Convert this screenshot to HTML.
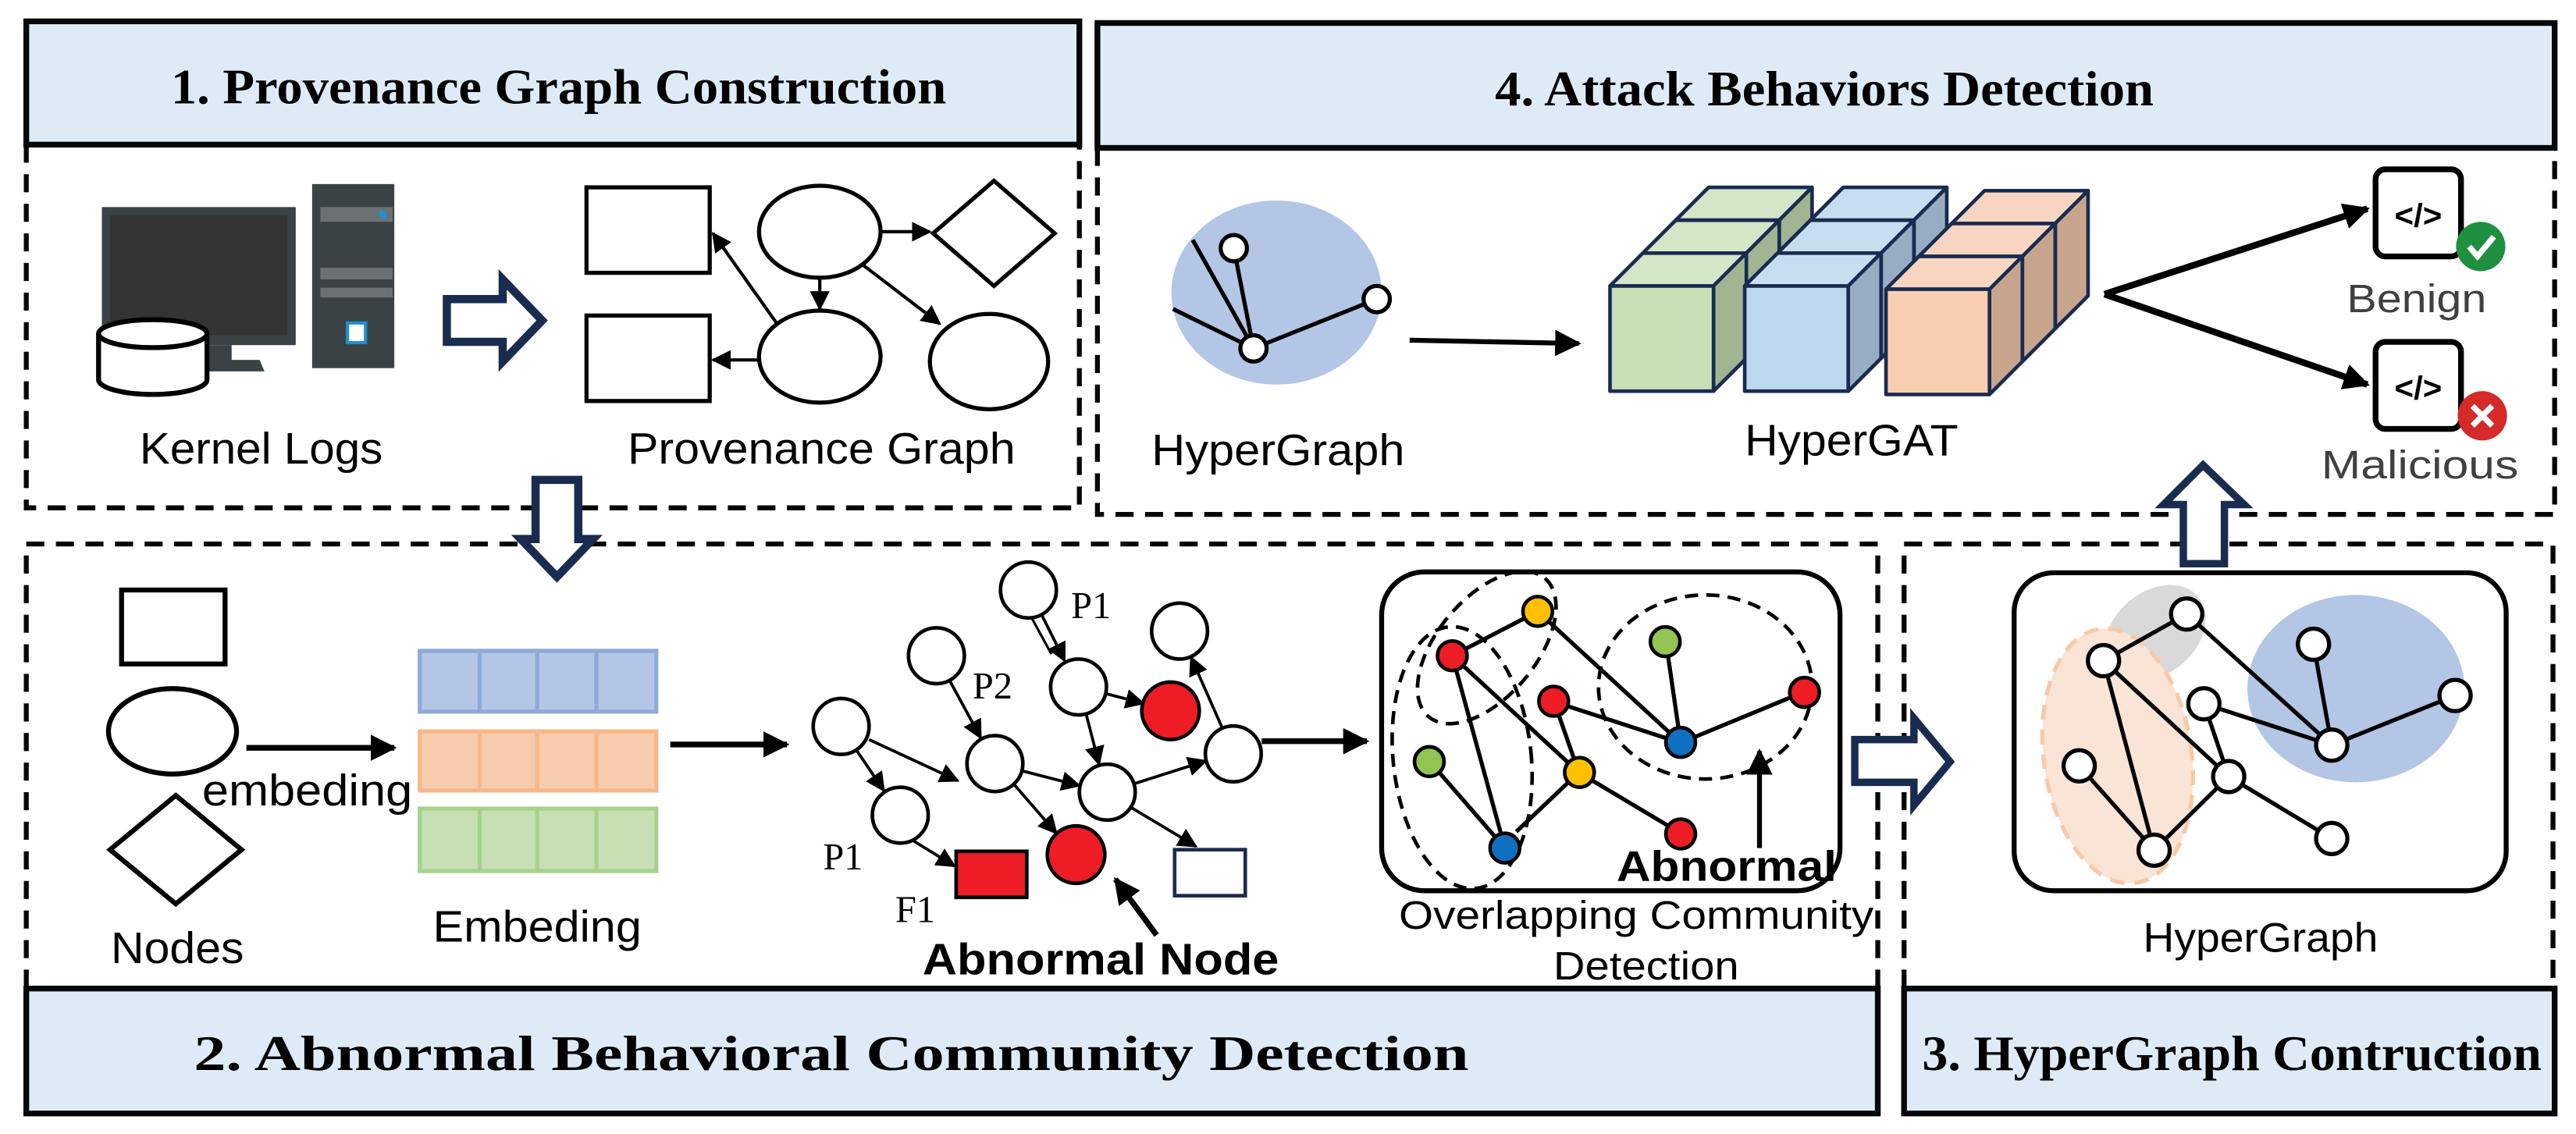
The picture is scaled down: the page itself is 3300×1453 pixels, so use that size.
<!DOCTYPE html>
<html><head><meta charset="utf-8"><style>
html,body{margin:0;padding:0;background:#fff;}
svg{display:block;}
.s{font-family:"Liberation Sans",sans-serif;}
.h{font-family:"Liberation Serif",serif;font-weight:bold;}
</style></head><body>
<svg width="3300" height="1453" viewBox="0 0 1568 690" preserveAspectRatio="none" xmlns="http://www.w3.org/2000/svg">
<defs>
<marker id="a" viewBox="0 0 10 10" refX="9" refY="5" markerWidth="12" markerHeight="12" markerUnits="userSpaceOnUse" orient="auto"><path d="M0,0 L10,5 L0,10 z" fill="#000"/></marker>
<marker id="b" viewBox="0 0 10 10" refX="9" refY="5" markerWidth="16" markerHeight="16" markerUnits="userSpaceOnUse" orient="auto"><path d="M0,0 L10,5 L0,10 z" fill="#000"/></marker>
</defs>

<g stroke="#050708" stroke-width="3.5" fill="#deebf7">
<rect x="16" y="13" width="641" height="75"/>
<rect x="668" y="14" width="887" height="76"/>
<rect x="16" y="601.5" width="1127" height="76"/>
<rect x="1159" y="601.5" width="396" height="76"/>
</g>
<g class="h" font-size="30" fill="#000">
<text x="104" y="63" textLength="472" lengthAdjust="spacingAndGlyphs">1. Provenance Graph Construction</text>
<text x="910" y="64" textLength="401" lengthAdjust="spacingAndGlyphs">4. Attack Behaviors Detection</text>
<text x="118" y="651" textLength="776" lengthAdjust="spacingAndGlyphs">2. Abnormal Behavioral Community Detection</text>
<text x="1170" y="651" textLength="377" lengthAdjust="spacingAndGlyphs">3. HyperGraph Contruction</text>
</g>

<g stroke="#050708" stroke-width="3" stroke-dasharray="11 7" fill="none">
<path d="M16,88 V309 H657 V88"/>
<path d="M668,90 V313 H1555 V90"/>
<path d="M16,601 V331 H1143 V601"/>
<path d="M1159,601 V331 H1554 V601"/>
</g>

<!-- Section 1 -->
<rect x="62" y="126" width="118" height="84" fill="#3b4245"/>
<rect x="67" y="131" width="108" height="73" fill="#333"/>
<rect x="127" y="210" width="14" height="10" fill="#3b4245"/>
<path d="M122,219 H158 L161,226 H122 z" fill="#3b4245"/>
<rect x="190" y="112" width="50" height="112" fill="#3a4244"/>
<rect x="195" y="126" width="44" height="9" fill="#6b7072"/>
<rect x="231" y="128" width="4" height="5" fill="#1e90d0"/>
<rect x="195" y="163" width="44" height="7" fill="#6b7072"/>
<rect x="195" y="175" width="44" height="6" fill="#6b7072"/>
<rect x="211.5" y="196.5" width="11" height="12" fill="#fff" stroke="#1e90d0" stroke-width="2"/>
<path d="M60,203 V231 A33,9 0 0 0 126,231 V203" fill="#fff" stroke="#000" stroke-width="3"/>
<ellipse cx="93" cy="203" rx="33" ry="8.5" fill="#fff" stroke="#000" stroke-width="3"/>
<text class="s" x="159" y="282" font-size="27" text-anchor="middle" textLength="148" lengthAdjust="spacingAndGlyphs">Kernel Logs</text>

<polygon points="272,182 306,182 306,170 330,195 306,220 306,208 272,208" fill="#fff" stroke="#1a2b50" stroke-width="5"/>

<g stroke="#000" stroke-width="2.5" fill="#fff">
<rect x="357" y="114" width="75" height="52"/>
<rect x="357" y="192" width="75" height="52"/>
<ellipse cx="499" cy="141" rx="37" ry="28"/>
<ellipse cx="499" cy="217" rx="37" ry="28"/>
<ellipse cx="602" cy="220" rx="36" ry="29"/>
<polygon points="605,110 642,142 605,174 568,142"/>
</g>
<g stroke="#000" stroke-width="2" marker-end="url(#a)">
<line x1="536" y1="141" x2="566" y2="141"/>
<line x1="499" y1="169" x2="499" y2="188"/>
<line x1="525" y1="161" x2="572" y2="197"/>
<line x1="473" y1="197" x2="434" y2="142"/>
<line x1="462" y1="219" x2="434" y2="219"/>
</g>
<text class="s" x="500" y="282" font-size="27" text-anchor="middle" textLength="236" lengthAdjust="spacingAndGlyphs">Provenance Graph</text>

<polygon points="326,292 352,292 352,328 361,328 339,351 317,328 326,328" fill="#fff" stroke="#1a2b50" stroke-width="5"/>

<!-- Section 4 -->
<ellipse cx="777" cy="178" rx="64" ry="56" fill="#b4c6e6"/>
<g stroke="#000" stroke-width="2.5">
<line x1="726" y1="146" x2="763" y2="212"/>
<line x1="714" y1="188" x2="763" y2="212"/>
<line x1="751" y1="151" x2="763" y2="212"/>
<line x1="838" y1="182" x2="763" y2="212"/>
</g>
<g fill="#fff" stroke="#000" stroke-width="2.5">
<circle cx="751" cy="151" r="8"/><circle cx="838" cy="182" r="8"/><circle cx="763" cy="212" r="8"/>
</g>
<text class="s" x="778" y="283" font-size="27" text-anchor="middle" textLength="154" lengthAdjust="spacingAndGlyphs">HyperGraph</text>
<line x1="858" y1="207" x2="961" y2="209" stroke="#000" stroke-width="3" marker-end="url(#b)"/>

<g stroke="#1a2b50" stroke-width="2.2" stroke-linejoin="round">
<g>
<polygon points="1020,134 1083,134 1103,114 1040,114" fill="#d2e6c8"/><polygon points="1083,134 1103,114 1103,178 1083,198" fill="#a0b592"/><rect x="1020" y="134" width="63" height="64" fill="#c8e0b8"/>
<polygon points="1000,154 1063,154 1083,134 1020,134" fill="#d2e6c8"/><polygon points="1063,154 1083,134 1083,198 1063,218" fill="#a0b592"/><rect x="1000" y="154" width="63" height="64" fill="#c8e0b8"/>
<polygon points="980,174 1043,174 1063,154 1000,154" fill="#d2e6c8"/><polygon points="1043,174 1063,154 1063,218 1043,238" fill="#a0b592"/><rect x="980" y="174" width="63" height="64" fill="#c8e0b8"/>
</g>
<g>
<polygon points="1102,134 1165,134 1185,114 1122,114" fill="#c8ddf0"/><polygon points="1165,134 1185,114 1185,178 1165,198" fill="#98adc4"/><rect x="1102" y="134" width="63" height="64" fill="#bdd7ee"/>
<polygon points="1082,154 1145,154 1165,134 1102,134" fill="#c8ddf0"/><polygon points="1145,154 1165,134 1165,198 1145,218" fill="#98adc4"/><rect x="1082" y="154" width="63" height="64" fill="#bdd7ee"/>
<polygon points="1062,174 1125,174 1145,154 1082,154" fill="#c8ddf0"/><polygon points="1125,174 1145,154 1145,218 1125,238" fill="#98adc4"/><rect x="1062" y="174" width="63" height="64" fill="#bdd7ee"/>
</g>
<g>
<polygon points="1188,136 1251,136 1271,116 1208,116" fill="#f8d5c0"/><polygon points="1251,136 1271,116 1271,180 1251,200" fill="#c7a58c"/><rect x="1188" y="136" width="63" height="64" fill="#f8cdb0"/>
<polygon points="1168,156 1231,156 1251,136 1188,136" fill="#f8d5c0"/><polygon points="1231,156 1251,136 1251,200 1231,220" fill="#c7a58c"/><rect x="1168" y="156" width="63" height="64" fill="#f8cdb0"/>
<polygon points="1148,176 1211,176 1231,156 1168,156" fill="#f8d5c0"/><polygon points="1211,176 1231,156 1231,220 1211,240" fill="#c7a58c"/><rect x="1148" y="176" width="63" height="64" fill="#f8cdb0"/>
</g>
</g>
<text class="s" x="1127" y="277" font-size="27" text-anchor="middle" textLength="130" lengthAdjust="spacingAndGlyphs">HyperGAT</text>

<g stroke="#000" stroke-width="4" fill="none" marker-end="url(#b)">
<path d="M1281,179 L1441,127"/>
<path d="M1281,179 L1441,234"/>
</g>
<g fill="#fff" stroke="#000" stroke-width="3.5">
<rect x="1446" y="103" width="52" height="53" rx="6"/>
<rect x="1446" y="208" width="52" height="53" rx="6"/>
</g>
<text class="s" x="1472" y="138" font-size="20" font-weight="bold" text-anchor="middle">&lt;/&gt;</text>
<text class="s" x="1472" y="243" font-size="20" font-weight="bold" text-anchor="middle">&lt;/&gt;</text>
<circle cx="1510" cy="150" r="15" fill="#1e9040"/>
<path d="M1503,150 L1508,156 L1518,144" stroke="#fff" stroke-width="3.5" fill="none"/>
<circle cx="1511" cy="253" r="15" fill="#d42a2a"/>
<path d="M1505,247 L1517,259 M1517,247 L1505,259" stroke="#fff" stroke-width="3.5"/>
<text class="s" x="1471" y="190" font-size="24" fill="#404040" text-anchor="middle" textLength="85" lengthAdjust="spacingAndGlyphs">Benign</text>
<text class="s" x="1473" y="291" font-size="24" fill="#404040" text-anchor="middle" textLength="120" lengthAdjust="spacingAndGlyphs">Malicious</text>

<polygon points="1341,283 1366,307 1354,307 1354,343 1329,343 1329,307 1317,307" fill="#fff" stroke="#1a2b50" stroke-width="4.5"/>

<!-- Section 2 left -->
<g fill="#fff" stroke="#000" stroke-width="3">
<rect x="74" y="359" width="63" height="45"/>
<ellipse cx="105" cy="445" rx="39" ry="26"/>
<polygon points="107,484 147,517 107,550 67,517"/>
</g>
<line x1="150" y1="455" x2="240" y2="455" stroke="#000" stroke-width="3.5" marker-end="url(#b)"/>
<text class="s" x="187" y="490" font-size="27" text-anchor="middle" textLength="128" lengthAdjust="spacingAndGlyphs">embeding</text>
<text class="s" x="108" y="586" font-size="27" text-anchor="middle" textLength="81" lengthAdjust="spacingAndGlyphs">Nodes</text>
<g stroke-width="2.5">
<rect x="255.5" y="396" width="144" height="37" fill="#b4c6e6" stroke="#8eaad8"/>
<rect x="255.5" y="445" width="144" height="36" fill="#f8cbad" stroke="#f6b88a"/>
<rect x="255.5" y="492" width="144" height="38" fill="#c6e0b4" stroke="#a9d18e"/>
<path d="M292,396 V433 M327,396 V433 M363,396 V433" stroke="#8eaad8"/>
<path d="M292,445 V481 M327,445 V481 M363,445 V481" stroke="#f6b88a"/>
<path d="M292,492 V530 M327,492 V530 M363,492 V530" stroke="#a9d18e"/>
</g>
<text class="s" x="327" y="573" font-size="27" text-anchor="middle" textLength="127" lengthAdjust="spacingAndGlyphs">Embeding</text>
<line x1="408" y1="453" x2="479" y2="453" stroke="#000" stroke-width="3.5" marker-end="url(#b)"/>

<g stroke="#000" stroke-width="1.8" marker-end="url(#a)">
<line x1="634" y1="374" x2="648" y2="402"/>
<line x1="578" y1="414" x2="597" y2="449"/>
<line x1="673" y1="422" x2="696" y2="428"/>
<line x1="661" y1="434" x2="669" y2="465"/>
<line x1="529" y1="450" x2="583" y2="475"/>
<line x1="521" y1="456" x2="538" y2="481"/>
<line x1="622" y1="469" x2="657" y2="478"/>
<line x1="617" y1="477" x2="643" y2="507"/>
<line x1="690" y1="477" x2="734" y2="463"/>
<line x1="744" y1="443" x2="725" y2="400"/>
<line x1="688" y1="491" x2="728" y2="515"/>
<line x1="555" y1="511" x2="581" y2="527"/>
</g>
<line x1="628" y1="376" x2="640" y2="398" stroke="#000" stroke-width="1.5"/>
<g stroke="#000" stroke-width="2.2" fill="#fff">
<circle cx="626" cy="359" r="17"/><circle cx="570" cy="399" r="17"/><circle cx="718" cy="384" r="17"/>
<circle cx="656.5" cy="418" r="17"/><circle cx="512" cy="442" r="17"/><circle cx="605.6" cy="464.6" r="17"/>
<circle cx="750.7" cy="458.7" r="17"/><circle cx="674" cy="482" r="17"/><circle cx="548" cy="496" r="17"/>
<circle cx="712.5" cy="432.5" r="17.5" fill="#ee1c24"/><circle cx="655" cy="520" r="17.5" fill="#ee1c24"/>
<rect x="582" y="518" width="43" height="28" fill="#ee1c24"/>
<rect x="715" y="517" width="43" height="28" stroke="#1a2b50"/>
</g>
<g font-family="Liberation Serif, serif" font-size="23" fill="#000">
<text x="652" y="376">P1</text><text x="592" y="425">P2</text><text x="501" y="529">P1</text><text x="545" y="561">F1</text>
</g>
<line x1="704" y1="569" x2="679" y2="535" stroke="#000" stroke-width="3.5" marker-end="url(#b)"/>
<text class="s" x="670" y="593" font-size="27" font-weight="bold" text-anchor="middle" textLength="217" lengthAdjust="spacingAndGlyphs">Abnormal Node</text>
<line x1="768" y1="451" x2="832" y2="451" stroke="#000" stroke-width="3.5" marker-end="url(#b)"/>

<rect x="841" y="348" width="279" height="194" rx="26" fill="#fff" stroke="#000" stroke-width="3"/>
<g fill="none" stroke="#000" stroke-width="2.2" stroke-dasharray="8 5">
<ellipse cx="890" cy="461" rx="42" ry="80" transform="rotate(-6 890 461)"/>
<ellipse cx="905" cy="394" rx="55" ry="30" transform="rotate(-50 905 394)"/>
<ellipse cx="1038" cy="418" rx="65" ry="56"/>
</g>
<g stroke="#000" stroke-width="2.5">
<line x1="884" y1="399" x2="936" y2="372"/><line x1="936" y1="372" x2="1023" y2="452"/>
<line x1="884" y1="399" x2="916" y2="516"/><line x1="884" y1="399" x2="961" y2="470"/>
<line x1="946" y1="427" x2="1023" y2="452"/><line x1="946" y1="427" x2="961" y2="470"/>
<line x1="1014" y1="390" x2="1023" y2="452"/><line x1="1023" y1="452" x2="1098" y2="421"/>
<line x1="870" y1="463" x2="916" y2="516"/><line x1="961" y1="470" x2="923" y2="506"/>
<line x1="961" y1="470" x2="1023" y2="507"/>
</g>
<g stroke="#000" stroke-width="2.2">
<circle cx="936" cy="372" r="9" fill="#ffc000"/><circle cx="884" cy="399" r="9" fill="#ee1c24"/>
<circle cx="1013.6" cy="390.4" r="9" fill="#92c353"/><circle cx="945.7" cy="426.7" r="9" fill="#ee1c24"/>
<circle cx="1098.4" cy="421.3" r="9" fill="#ee1c24"/><circle cx="1023" cy="451.7" r="9" fill="#0e70c0"/>
<circle cx="870" cy="463.4" r="9" fill="#92c353"/><circle cx="961.4" cy="470" r="9" fill="#ffc000"/>
<circle cx="1023" cy="507.4" r="9" fill="#ee1c24"/><circle cx="916" cy="516" r="9" fill="#0e70c0"/>
</g>
<line x1="1071" y1="516" x2="1071" y2="457" stroke="#000" stroke-width="3" marker-end="url(#b)"/>
<text class="s" x="1051" y="536" font-size="26" font-weight="bold" text-anchor="middle" textLength="134" lengthAdjust="spacingAndGlyphs">Abnormal</text>
<text class="s" x="996" y="565" font-size="24" text-anchor="middle" textLength="289" lengthAdjust="spacingAndGlyphs">Overlapping Community</text>
<text class="s" x="1002" y="596" font-size="24" text-anchor="middle" textLength="113" lengthAdjust="spacingAndGlyphs">Detection</text>

<polygon points="1129,450 1165,450 1165,437 1187,463.5 1165,490 1165,476 1129,476" fill="#fff" stroke="#1a2b50" stroke-width="4.5"/>

<!-- Section 3 -->
<rect x="1226" y="348.5" width="299.5" height="193.5" rx="24" fill="#fff" stroke="#000" stroke-width="3"/>
<ellipse cx="1312" cy="385" rx="34" ry="25" transform="rotate(-40 1312 385)" fill="#d9d9d9"/>
<ellipse cx="1289" cy="460" rx="45" ry="78" transform="rotate(-8 1289 460)" fill="#f9e4d6" stroke="#f8c9a8" stroke-width="2.5" stroke-dasharray="9 6"/>
<ellipse cx="1434" cy="419" rx="66" ry="57" fill="#b4c6e6"/>
<g stroke="#000" stroke-width="2.5">
<line x1="1331" y1="373.6" x2="1280.4" y2="402"/><line x1="1331" y1="373.6" x2="1419.3" y2="453.4"/>
<line x1="1280.4" y1="402" x2="1311.2" y2="517.3"/><line x1="1280.4" y1="402" x2="1356.6" y2="472.5"/>
<line x1="1341.5" y1="428.2" x2="1419.3" y2="453.4"/><line x1="1408.2" y1="392" x2="1419.3" y2="453.4"/>
<line x1="1419.3" y1="453.4" x2="1494.4" y2="423.2"/><line x1="1341.5" y1="428.2" x2="1356.6" y2="472.5"/>
<line x1="1265.6" y1="466" x2="1311.2" y2="517.3"/><line x1="1356.6" y1="472.5" x2="1311.2" y2="517.3"/>
<line x1="1356.6" y1="472.5" x2="1419.3" y2="510.2"/>
</g>
<g fill="#fff" stroke="#000" stroke-width="2.5">
<circle cx="1331" cy="373.6" r="9.5"/><circle cx="1280.4" cy="402" r="9.5"/><circle cx="1408.2" cy="392" r="9.5"/>
<circle cx="1341.5" cy="428.2" r="9.5"/><circle cx="1494.4" cy="423.2" r="9.5"/><circle cx="1419.3" cy="453.4" r="9.5"/>
<circle cx="1265.6" cy="466" r="9.5"/><circle cx="1356.6" cy="472.5" r="9.5"/><circle cx="1311.2" cy="517.3" r="9.5"/>
<circle cx="1419.3" cy="510.2" r="9.5"/>
</g>
<text class="s" x="1376" y="579" font-size="25" text-anchor="middle" textLength="143" lengthAdjust="spacingAndGlyphs">HyperGraph</text>
</svg>
</body></html>
